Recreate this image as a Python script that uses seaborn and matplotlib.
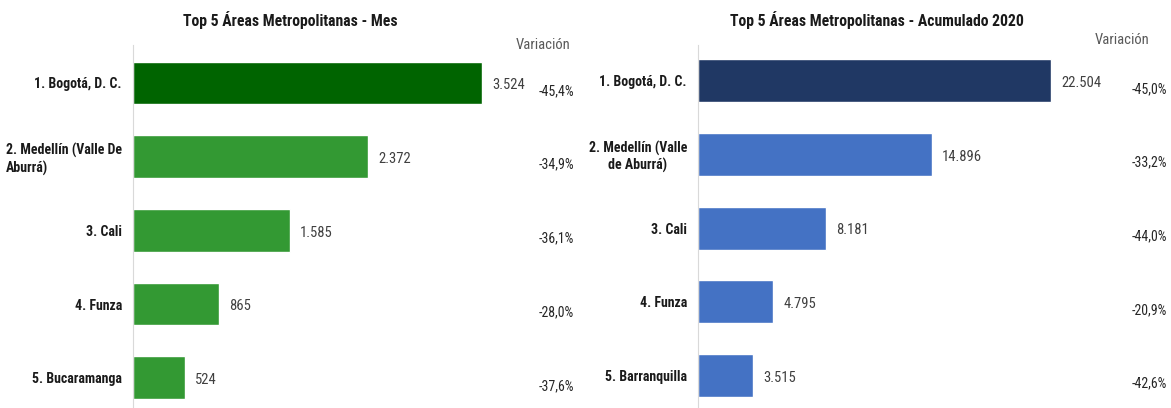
import matplotlib
matplotlib.use("Agg")
import matplotlib.pyplot as plt
import matplotlib.transforms as mtransforms
import pandas as pd
import seaborn as sns

# datos
areas_mes = ["1. Bogotá, D. C.", "2. Medellín (Valle De\nAburrá)", "3. Cali", "4. Funza", "5. Bucaramanga"]
valores_mes = [3524, 2372, 1585, 865, 524]
variacion_mes = [-45.4, -34.9, -36.1, -28.0, -37.6]
colores_mes = ["#006400", "#339933", "#339933", "#339933", "#339933"]

areas_acum = ["1. Bogotá, D. C.", "2. Medellín (Valle\nde Aburrá)", "3. Cali", "4. Funza", "5. Barranquilla"]
valores_acum = [22504, 14896, 8181, 4795, 3515]
variacion_acum = [-45.0, -33.2, -44.0, -20.9, -42.6]
colores_acum = ["#203864", "#4472C4", "#4472C4", "#4472C4", "#4472C4"]

sns.set_style("white")
plt.rcParams['font.family'] = ['Roboto Condensed', 'DejaVu Sans']
plt.rcParams['font.stretch'] = 'condensed'

W, H = 1171, 408
fig = plt.figure(figsize=(W / 100, H / 100), dpi=100)


def panel(x0, x1, bar_end, dy, areas, valores, variacion, colores, titulo, title_x,
          var_x, head_x, head_y, multialign):
    ax = fig.add_axes([x0 / W, 0, (x1 - x0) / W, (H - 45) / H])
    df = pd.DataFrame({"area": areas, "valor": valores})
    sns.barplot(data=df, x="valor", y="area", hue="area", palette=colores,
                legend=False, width=0.58, orient="h", ax=ax, saturation=1)
    xmax = valores[0] * (x1 - x0) / (bar_end - x0)
    ax.set_xlim(0, xmax)
    ax.set_ylim(4.41 + dy, -0.515 + dy)
    ax.set_xlabel("")
    ax.set_ylabel("")
    ax.set_xticks([])
    for s in ["top", "right", "bottom"]:
        ax.spines[s].set_visible(False)
    ax.spines["left"].set_color("#d9d9d9")
    ax.tick_params(axis="y", length=0, pad=8)
    for lab in ax.get_yticklabels():
        lab.set_fontweight("bold")
        lab.set_fontsize(10)
        lab.set_color("#1a1a1a")
        lab.set_multialignment(multialign)
    for i, v in enumerate(valores):
        ax.text(v + xmax * 0.022, i + 0.03, f"{v:,}".replace(",", "."), va="center", ha="left",
                fontsize=10.5, color="#404040")
    trans = mtransforms.blended_transform_factory(ax.transAxes, ax.transData)
    for i, v in enumerate(variacion):
        ax.text((var_x - x0) / (x1 - x0), i + 0.11, f"{v:.1f}%".replace(".", ","),
                transform=trans, ha="center", va="center", fontsize=10, color="#262626")
    fig.text(head_x / W, 1 - head_y / H, "Variación", ha="center", va="center",
             fontsize=10.5, color="#595959")
    fig.text(title_x / W, 1 - 20 / H, titulo, ha="center", va="center",
             fontsize=11.3, fontweight="bold", color="#1a1a1a")
    return ax


panel(133, 590, 482, 0.0, areas_mes, valores_mes, variacion_mes, colores_mes,
      "Top 5 Áreas Metropolitanas - Mes", 290, 556, 543, 45, "left")
panel(698, 1160, 1051, 0.03, areas_acum, valores_acum, variacion_acum, colores_acum,
      "Top 5 Áreas Metropolitanas - Acumulado 2020", 877, 1149, 1122, 40, "center")

fig.savefig("out.png", dpi=100)
